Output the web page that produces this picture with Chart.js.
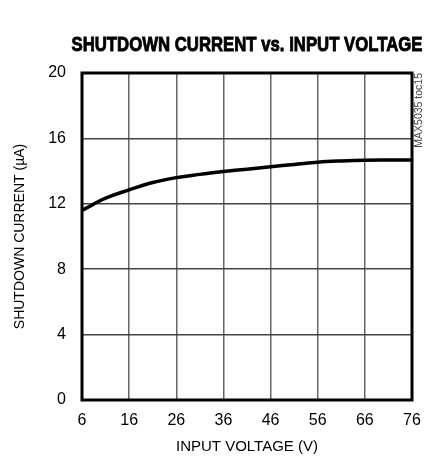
<!DOCTYPE html>
<html>
<head>
<meta charset="utf-8">
<script src="https://cdn.jsdelivr.net/npm/chart.js@4"></script>
<style>
    html, body { margin: 0; padding: 0; background: #fff; }
    #wrap { width: 425px; height: 457px; }
</style>
</head>
<body>
<div id="wrap"><canvas id="grafico" width="425" height="457"></canvas></div>
<script>
// dados
const tensao = [6, 8, 11, 16, 21, 26, 31, 36, 41, 46, 51, 56, 61, 66, 71, 76];
const corrente = [11.6, 11.9, 12.35, 12.85, 13.3, 13.6, 13.8, 13.97, 14.12, 14.27, 14.4, 14.54, 14.62, 14.67, 14.68, 14.68];
const ticksX = [6, 16, 26, 36, 46, 56, 66, 76];
const ticksY = [0, 4, 8, 12, 16, 20];

const titulo = "SHUTDOWN CURRENT vs. INPUT VOLTAGE";
const fonte = "'Liberation Sans', Arial, sans-serif";

const moldura = {
    id: "moldura",
    afterDraw(chart) {
        const { ctx, chartArea: a } = chart;
        ctx.save();
        ctx.strokeStyle = "#000";
        ctx.lineWidth = 3;
        ctx.strokeRect(a.left, a.top, a.right - a.left, a.bottom - a.top);

        // título (comprimido para parecer condensado)
        ctx.fillStyle = "#000";
        ctx.font = "bold 21px " + fonte;
        ctx.textAlign = "center";
        ctx.textBaseline = "middle";
        ctx.lineWidth = 0.9;
        ctx.fillText(titulo, (a.left + a.right) / 2, a.top - 28, 351);
        ctx.strokeText(titulo, (a.left + a.right) / 2, a.top - 28, 351);

        // rótulo lateral
        ctx.translate(a.right + 7, a.top);
        ctx.rotate(-Math.PI / 2);
        ctx.fillStyle = "#444";
        ctx.font = "10.5px " + fonte;
        ctx.textAlign = "right";
        ctx.fillText("MAX5035 toc15", 0, 0);
        ctx.restore();
    }
};

new Chart(document.getElementById("grafico"), {
    type: "line",
    data: {
        datasets: [{
            data: tensao.map((v, i) => ({ x: v, y: corrente[i] })),
            borderColor: "#000",
            borderWidth: 3.5,
            tension: 0.4,
            pointRadius: 0
        }]
    },
    options: {
        responsive: false,
        animation: false,
        layout: { padding: { top: 73, right: 13, left: 0, bottom: 0 } },
        plugins: {
            legend: { display: false },
            tooltip: { enabled: false },
            title: { display: false }
        },
        scales: {
            x: {
                type: "linear",
                min: 6,
                max: 76,
                afterBuildTicks: s => { s.ticks = ticksX.map(v => ({ value: v })); },
                afterFit: s => { s.height = 57; s.paddingLeft = 0; s.paddingRight = 0; },
                grid: { color: "#666", lineWidth: 1.5, drawTicks: false },
                border: { display: false },
                ticks: { color: "#000", padding: 11, maxRotation: 0, font: { family: fonte, size: 16 } },
                title: {
                    display: true,
                    text: "INPUT VOLTAGE (V)",
                    color: "#000",
                    font: { family: fonte, size: 15 },
                    padding: { top: 0, bottom: 1 }
                }
            },
            y: {
                min: 0,
                max: 20,
                afterBuildTicks: s => { s.ticks = ticksY.map(v => ({ value: v })); },
                afterFit: s => { s.width = 82; s.paddingTop = 0; s.paddingBottom = 0; },
                grid: { color: "#444", lineWidth: 1.5, drawTicks: false },
                border: { display: false },
                ticks: { color: "#000", padding: 16, font: { family: fonte, size: 16 } },
                title: {
                    display: true,
                    text: "SHUTDOWN CURRENT (µA)",
                    color: "#000",
                    font: { family: fonte, size: 14 },
                    padding: { top: 12, bottom: 0 }
                }
            }
        }
    },
    plugins: [moldura]
});
</script>
</body>
</html>
